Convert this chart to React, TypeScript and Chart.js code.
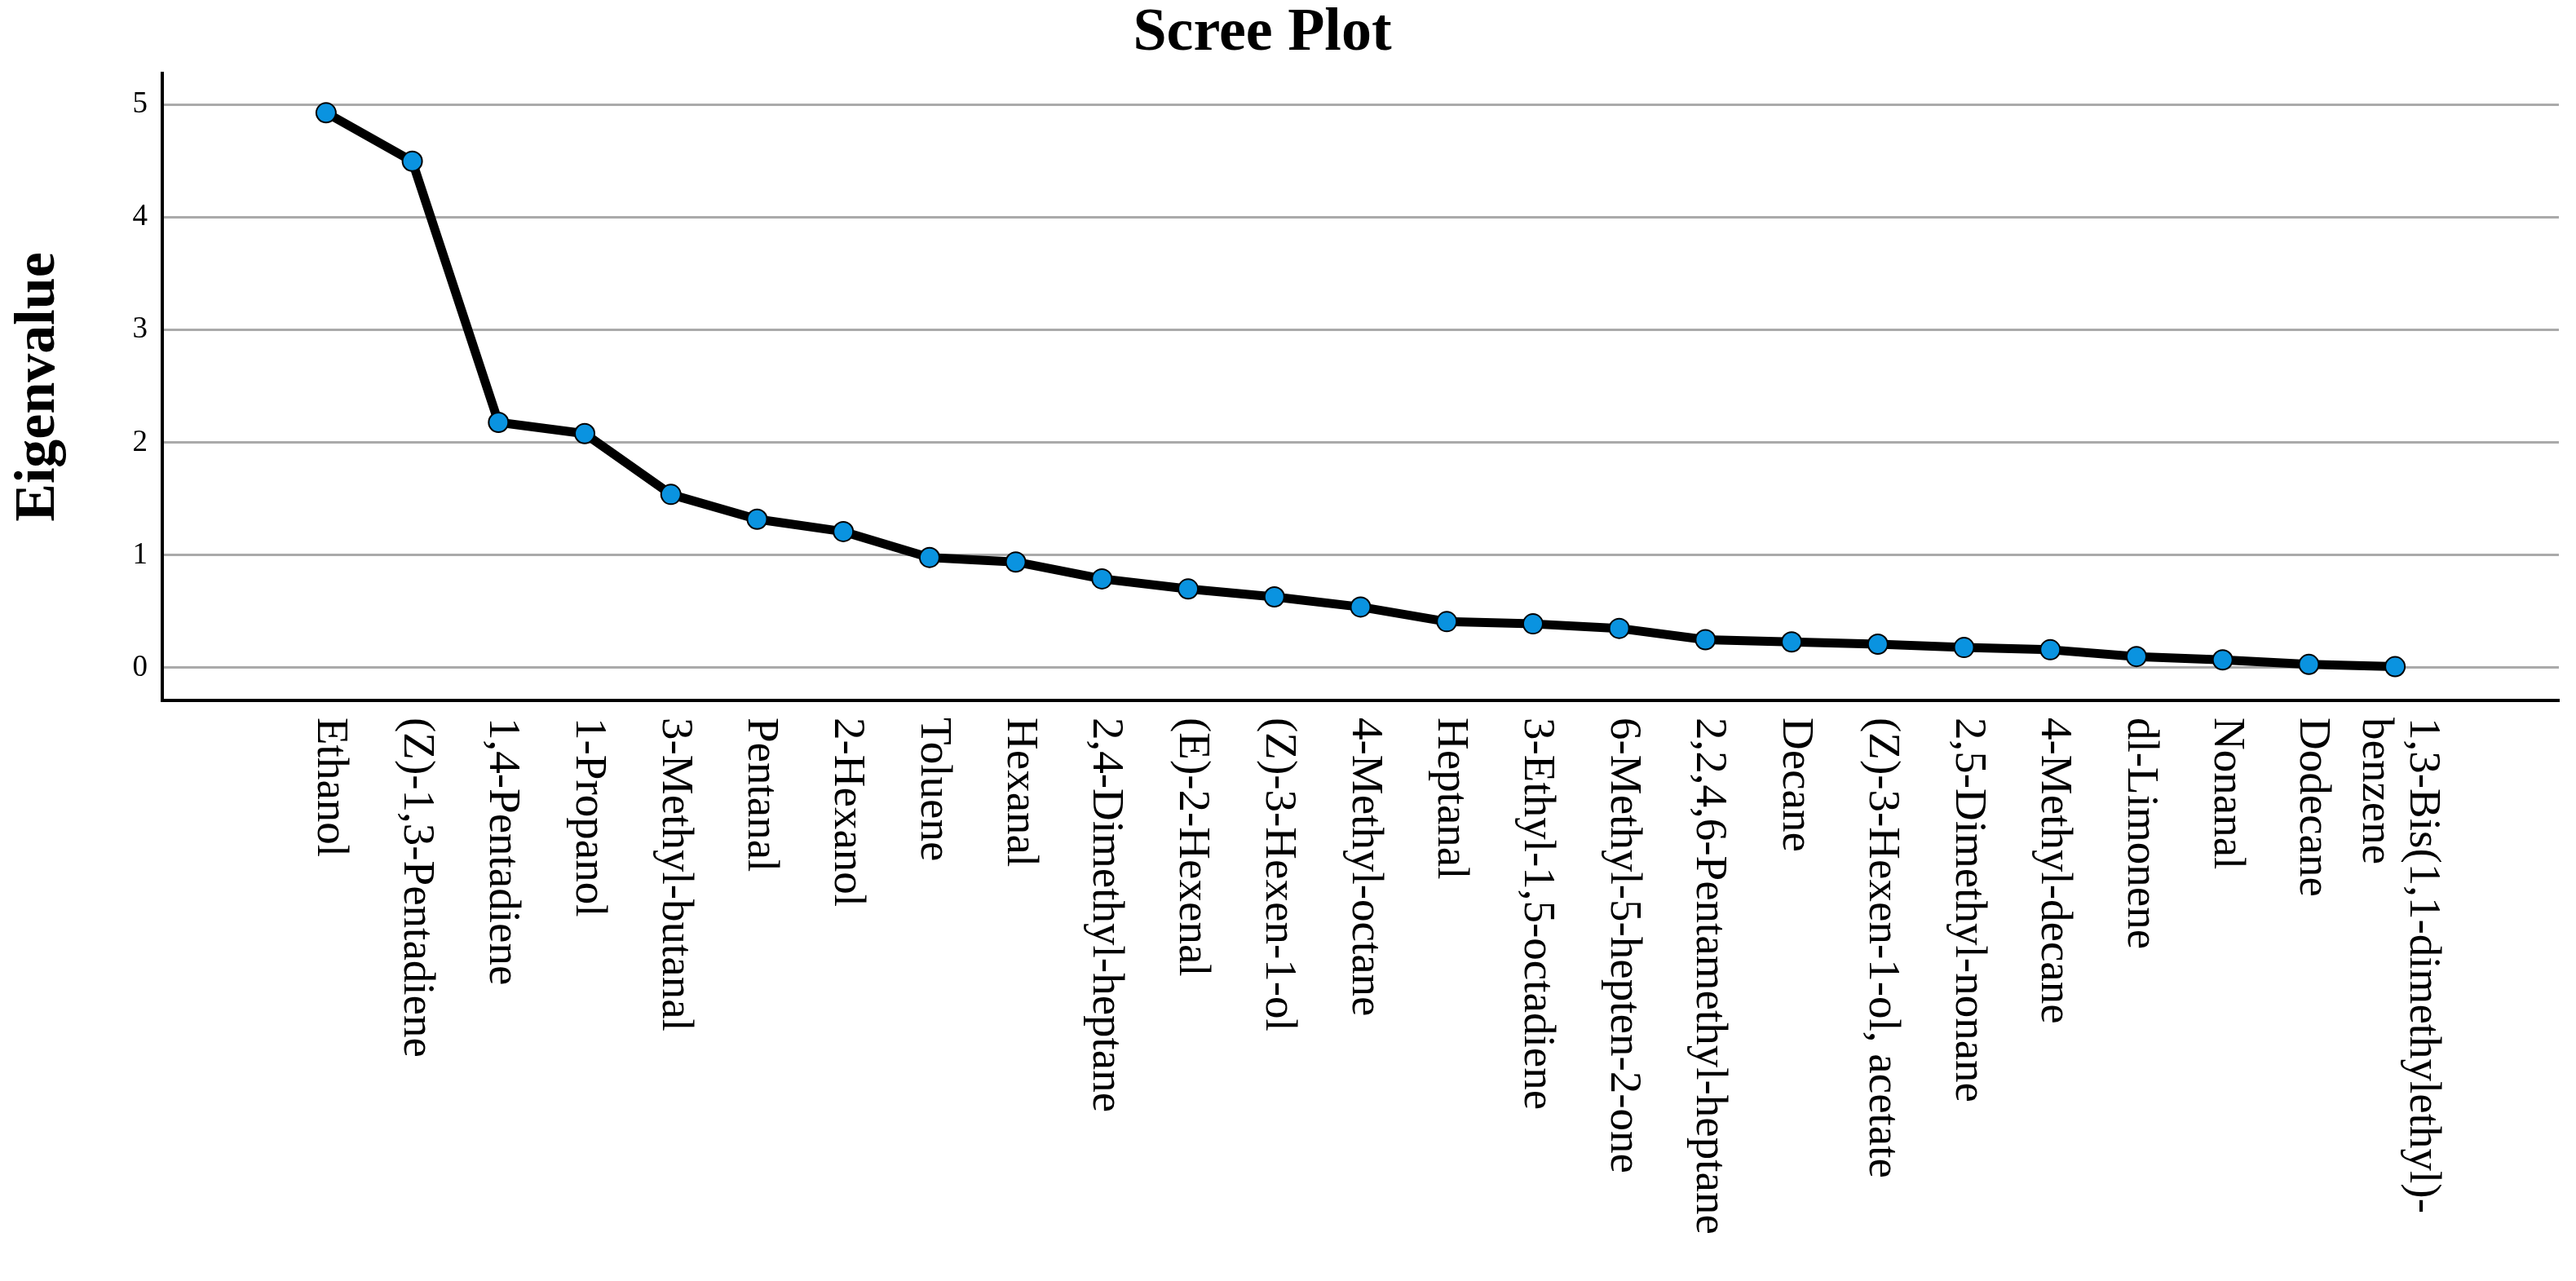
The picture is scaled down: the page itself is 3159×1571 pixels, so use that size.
import { useEffect, useRef } from "react";
import { Chart, registerables } from "chart.js";

Chart.register(...registerables);

const categories: (string | string[])[] = [
  "Ethanol",
  "(Z)-1,3-Pentadiene",
  "1,4-Pentadiene",
  "1-Propanol",
  "3-Methyl-butanal",
  "Pentanal",
  "2-Hexanol",
  "Toluene",
  "Hexanal",
  "2,4-Dimethyl-heptane",
  "(E)-2-Hexenal",
  "(Z)-3-Hexen-1-ol",
  "4-Methyl-octane",
  "Heptanal",
  "3-Ethyl-1,5-octadiene",
  "6-Methyl-5-hepten-2-one",
  "2,2,4,6-Pentamethyl-heptane",
  "Decane",
  "(Z)-3-Hexen-1-ol, acetate",
  "2,5-Dimethyl-nonane",
  "4-Methyl-decane",
  "dl-Limonene",
  "Nonanal",
  "Dodecane",
  ["1,3-Bis(1,1-dimethylethyl)-", "benzene"],
];

const eigenvalues = [
  4.93, 4.5, 2.18, 2.08, 1.54, 1.32, 1.21, 0.98, 0.94, 0.79, 0.7, 0.63, 0.54,
  0.41, 0.39, 0.35, 0.25, 0.23, 0.21, 0.18, 0.16, 0.1, 0.07, 0.03, 0.01,
];

const yTicks = [0, 1, 2, 3, 4, 5];
const chartTitle = "Scree Plot";
const yAxisTitle = "Eigenvalue";

const W = 3159;
const H = 1571;

export default function App() {
  const ref = useRef<HTMLCanvasElement>(null);

  useEffect(() => {
    document.body.style.margin = "0";
    const canvas = ref.current;
    if (!canvas) return;

    const textPlugin = {
      id: "customText",
      afterDraw(chart: any) {
        const ctx = chart.ctx as CanvasRenderingContext2D;
        const xs = chart.scales.x;
        const area = chart.chartArea;
        ctx.save();
        ctx.fillStyle = "#000";
        ctx.font = "55px 'Liberation Serif'";
        ctx.textAlign = "left";
        ctx.textBaseline = "alphabetic";
        categories.forEach((lab, i) => {
          const lines = Array.isArray(lab) ? lab : [lab];
          const px = xs.getPixelForValue(i);
          ctx.save();
          ctx.translate(px, area.bottom + 21);
          ctx.rotate(Math.PI / 2);
          lines.forEach((ln, k) => {
            ctx.fillText(ln, 0, 10 + (k - (lines.length - 1) / 2) * 58);
          });
          ctx.restore();
        });
        ctx.font = "bold 74px 'Liberation Serif'";
        ctx.textAlign = "center";
        ctx.fillText(chartTitle, 1548, 61);
        ctx.save();
        ctx.translate(66, (area.top + area.bottom) / 2);
        ctx.rotate(-Math.PI / 2);
        ctx.font = "bold 70px 'Liberation Serif'";
        ctx.fillText(yAxisTitle, 0, 0);
        ctx.restore();
        ctx.restore();
      },
    };

    const chart = new Chart(canvas, {
      type: "line",
      data: {
        datasets: [
          {
            data: eigenvalues.map((v, i) => ({ x: i, y: v })),
            borderColor: "#000",
            borderWidth: 11,
            borderJoinStyle: "round",
            borderCapStyle: "round",
            pointRadius: 12,
            pointBackgroundColor: "#0a93e0",
            pointBorderColor: "#000",
            pointBorderWidth: 2,
            tension: 0,
          },
        ],
      },
      options: {
        animation: false,
        responsive: false,
        devicePixelRatio: 1,
        layout: { padding: { top: 90, right: 21, bottom: 0, left: 0 } },
        plugins: {
          legend: { display: false },
          title: { display: false },
          tooltip: { enabled: false },
        },
        scales: {
          x: {
            type: "linear",
            min: -1.9,
            max: 25.9,
            grid: { display: false },
            border: { display: true, color: "#000", width: 4 },
            ticks: { display: false },
            afterFit(scale: any) {
              scale.height = 712;
            },
          },
          y: {
            type: "linear",
            min: -0.29,
            max: 5.28,
            afterBuildTicks(scale: any) {
              scale.ticks = yTicks.map((v) => ({ value: v }));
            },
            afterFit(scale: any) {
              scale.width = 199;
            },
            grid: { color: "#aaaaaa", lineWidth: 3, drawTicks: false },
            border: { display: true, color: "#000", width: 4 },
            ticks: {
              color: "#000",
              padding: 18,
              font: { family: "'Liberation Serif'", size: 37 },
            },
          },
        },
      },
      plugins: [textPlugin],
    } as any);

    return () => chart.destroy();
  }, []);

  return (
    <div style={{ width: W, height: H, background: "#fff" }}>
      <canvas ref={ref} width={W} height={H} />
    </div>
  );
}
